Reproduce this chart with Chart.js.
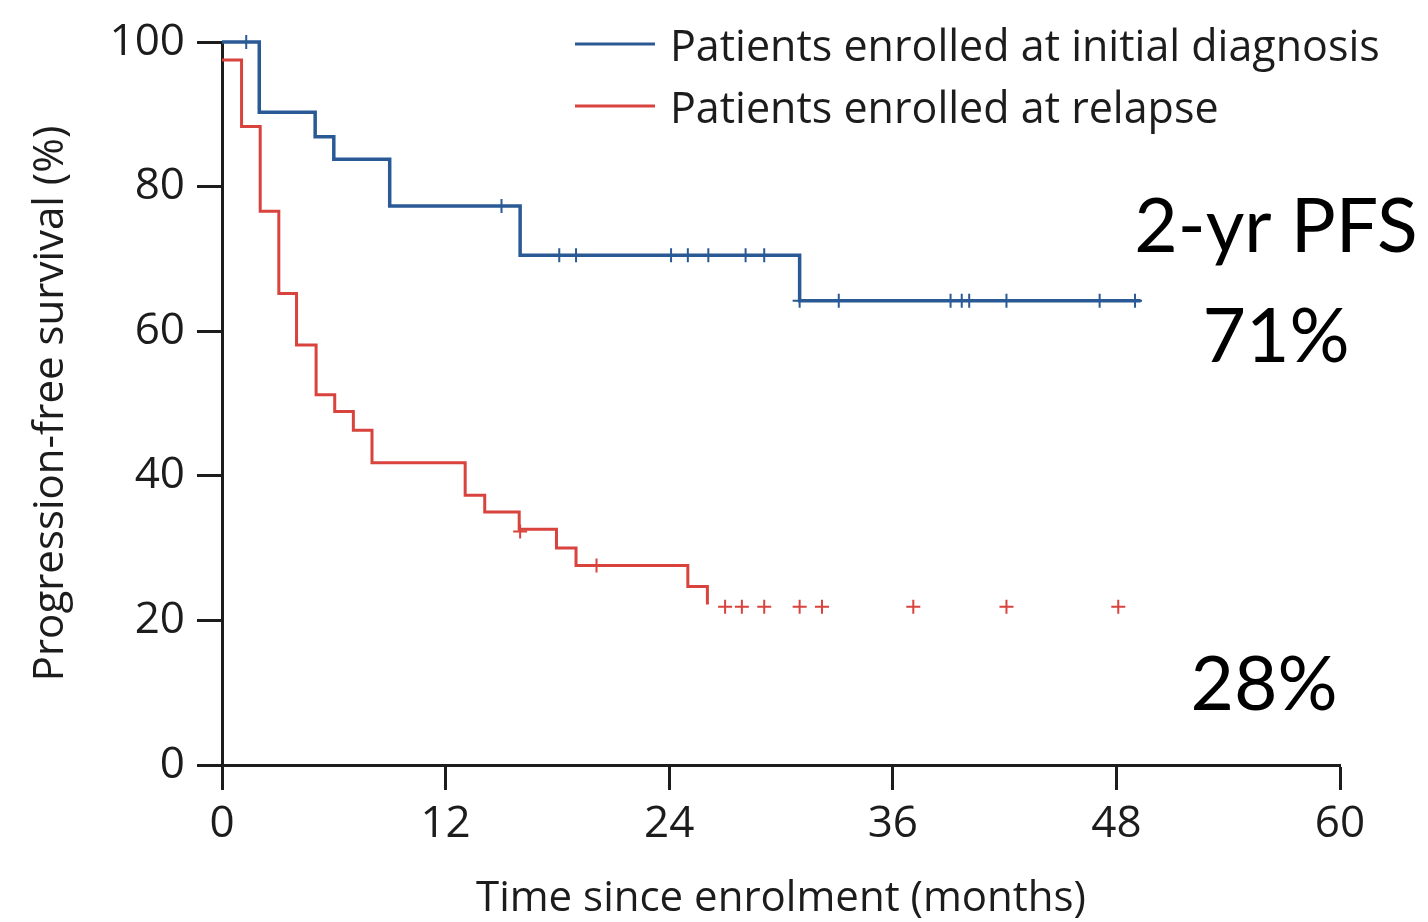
<!DOCTYPE html>
<html>
<head>
<meta charset="utf-8">
<title>Progression-free survival</title>
<script src="https://cdn.jsdelivr.net/npm/chart.js@4.4.1/dist/chart.umd.min.js"></script>
<style>
  html, body { margin: 0; padding: 0; background: #fff; }
  #wrap { width: 1428px; height: 922px; }
</style>
</head>
<body>
<div id="wrap"><canvas id="pfsChart" width="1428" height="922"></canvas></div>
<script>
// DATA (months since enrolment / PFS %)
const seriesLabels = ['Patients enrolled at initial diagnosis', 'Patients enrolled at relapse'];

// initial diagnosis: step points (value after each drop)
const diagnosisTimes = [0, 2.0, 5.0, 6.0, 9.0, 16.0, 31.0, 49.3];
const diagnosisPfs = [100, 90.3, 86.9, 83.8, 77.3, 70.5, 64.2, 64.2];
const diagnosisCensorTimes = [1.3, 15.0, 18.1, 19.0, 24.1, 25.0, 26.1, 28.1, 29.1, 31.0, 33.1, 39.1, 39.7, 40.1, 42.1, 47.1, 49.0];
const diagnosisCensorPfs = [100, 77.3, 70.5, 70.5, 70.5, 70.5, 70.5, 70.5, 70.5, 64.2, 64.2, 64.2, 64.2, 64.2, 64.2, 64.2, 64.2];

// relapse
const relapseTimes = [0, 1.05, 2.05, 3.05, 4.0, 5.05, 6.05, 7.05, 8.05, 13.05, 14.1, 15.95, 17.95, 19.0, 25.0, 26.05];
const relapsePfs = [97.5, 88.3, 76.6, 65.2, 58.1, 51.2, 48.9, 46.3, 41.8, 37.3, 35.0, 32.6, 30.0, 27.6, 24.7, 22.2];
const relapseCensorTimes = [16.0, 20.1, 27.0, 27.9, 29.1, 31.0, 32.2, 37.1, 42.1, 48.1];
const relapseCensorPfs = [32.3, 27.6, 21.9, 21.9, 21.9, 21.9, 21.9, 21.9, 21.9, 21.9];

const xTicks = [0, 12, 24, 36, 48, 60];
const yTicks = [0, 20, 40, 60, 80, 100];
const pfsNotes = ['2-yr PFS', '71%', '28%'];

const BLUE = '#2a5a96';
const RED = '#d9433d';
const INK = '#1c1c1c';

const toPoints = (xs, ys) => xs.map((x, i) => ({ x: x, y: ys[i] }));

// legend drawn inside the plot, top right
const legendPlugin = {
  id: 'legendPlugin',
  afterDraw(chart) {
    const ctx = chart.ctx;
    chart.data.datasets.filter((d) => d.showLine).forEach((d, i) => {
      const y = 44 + i * 62;
      ctx.save();
      ctx.strokeStyle = d.borderColor;
      ctx.lineWidth = 3;
      ctx.beginPath();
      ctx.moveTo(575, y);
      ctx.lineTo(655, y);
      ctx.stroke();
      ctx.fillStyle = INK;
      ctx.font = '43px "Open Sans"';
      ctx.textBaseline = 'alphabetic';
      ctx.fillText(d.label, 670, y + 17);
      ctx.restore();
    });
  },
};

// 2-yr PFS notes on the right
const notesPlugin = {
  id: 'notesPlugin',
  afterDraw(chart) {
    const ctx = chart.ctx;
    ctx.save();
    ctx.fillStyle = '#000';
    ctx.textAlign = 'center';
    ctx.textBaseline = 'alphabetic';
    ctx.font = '75px Lato';
    ctx.fillText(pfsNotes[0], 1276, 252);
    ctx.fillText(pfsNotes[1], 1276, 362);
    ctx.fillText(pfsNotes[2], 1264, 710);
    ctx.restore();
  },
};

const tickFont = { family: 'Open Sans', size: 44 };
const titleFont = { family: 'Open Sans', size: 42, lineHeight: 1.1 };

new Chart(document.getElementById('pfsChart'), {
  type: 'scatter',
  data: {
    datasets: [
      {
        label: seriesLabels[0],
        data: toPoints(diagnosisTimes, diagnosisPfs),
        showLine: true,
        stepped: true,
        borderColor: BLUE,
        borderWidth: 3.5,
        pointRadius: 0,
        clip: false,
      },
      {
        label: seriesLabels[1],
        data: toPoints(relapseTimes, relapsePfs),
        showLine: true,
        stepped: true,
        borderColor: RED,
        borderWidth: 3,
        pointRadius: 0,
        clip: false,
      },
      {
        label: 'censored (diagnosis)',
        data: toPoints(diagnosisCensorTimes, diagnosisCensorPfs),
        showLine: false,
        pointStyle: 'cross',
        pointRadius: 7,
        borderColor: BLUE,
        borderWidth: 2,
        clip: false,
      },
      {
        label: 'censored (relapse)',
        data: toPoints(relapseCensorTimes, relapseCensorPfs),
        showLine: false,
        pointStyle: 'cross',
        pointRadius: 7,
        borderColor: RED,
        borderWidth: 2,
        clip: false,
      },
    ],
  },
  options: {
    responsive: false,
    animation: false,
    devicePixelRatio: 1,
    layout: { padding: { top: 42, right: 88, left: 0, bottom: 0 } },
    plugins: {
      legend: { display: false },
      tooltip: { enabled: false },
    },
    scales: {
      x: {
        type: 'linear',
        min: 0,
        max: 60,
        afterBuildTicks: (s) => { s.ticks = xTicks.map((v) => ({ value: v })); },
        afterFit: (s) => { s.height = 157; },
        ticks: { font: tickFont, color: INK, padding: 8, maxRotation: 0 },
        grid: { drawOnChartArea: false, drawTicks: true, tickLength: 25, tickColor: INK, tickWidth: 3 },
        border: { display: true, color: INK, width: 3 },
        title: {
          display: true,
          text: 'Time since enrolment (months)',
          font: titleFont,
          color: INK,
          padding: { top: 0, bottom: 0 },
        },
      },
      y: {
        type: 'linear',
        min: 0,
        max: 100,
        afterBuildTicks: (s) => { s.ticks = yTicks.map((v) => ({ value: v })); },
        afterFit: (s) => { s.width = 222; },
        ticks: { font: tickFont, color: INK, padding: 12 },
        grid: { drawOnChartArea: false, drawTicks: true, tickLength: 25, tickColor: INK, tickWidth: 3 },
        border: { display: true, color: INK, width: 3 },
        title: {
          display: true,
          text: 'Progression-free survival (%)',
          font: titleFont,
          color: INK,
          padding: { top: 28, bottom: 0 },
        },
      },
    },
  },
  plugins: [legendPlugin, notesPlugin],
});
</script>
</body>
</html>
